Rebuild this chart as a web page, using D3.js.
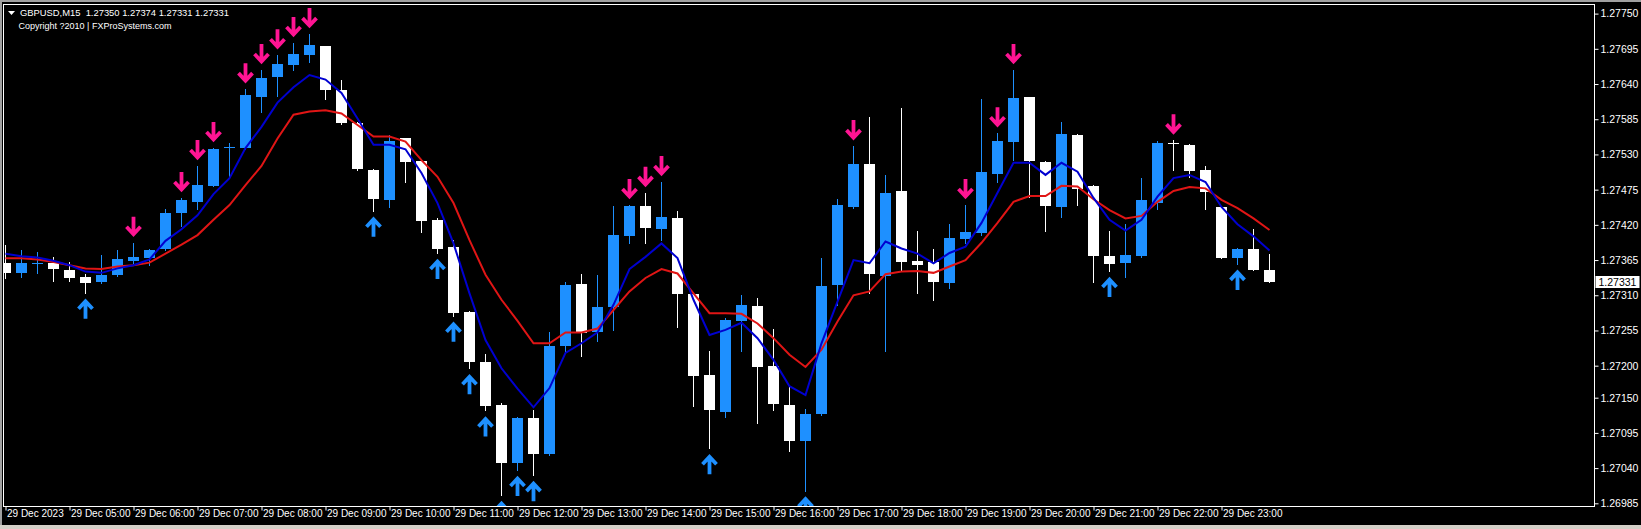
<!DOCTYPE html>
<html><head><meta charset="utf-8">
<script src="https://cdn.jsdelivr.net/npm/d3@7"></script>
<style>html,body{margin:0;padding:0;background:#000;overflow:hidden}text{font-family:"Liberation Sans",Arial,sans-serif}</style>
</head><body><svg id="c" width="1641" height="529"></svg>
<script>
// ---------- DATA ----------
const times = ["04:00","04:15","04:30","04:45","05:00","05:15","05:30","05:45","06:00","06:15",
"06:30","06:45","07:00","07:15","07:30","07:45","08:00","08:15","08:30","08:45",
"09:00","09:15","09:30","09:45","10:00","10:15","10:30","10:45","11:00","11:15",
"11:30","11:45","12:00","12:15","12:30","12:45","13:00","13:15","13:30","13:45",
"14:00","14:15","14:30","14:45","15:00","15:15","15:30","15:45","16:00","16:15",
"16:30","16:45","17:00","17:15","17:30","17:45","18:00","18:15","18:30","18:45",
"19:00","19:15","19:30","19:45","20:00","20:15","20:30","20:45","21:00","21:15",
"21:30","21:45","22:00","22:15","22:30","22:45","23:00","23:15","23:30","23:45"];
const open = [1.27360,1.27345,1.27359,1.27360,1.27350,1.27339,1.27330,1.27341,1.27364,1.27368,
1.27381,1.27438,1.27455,1.27481,1.27540,1.27540,1.27621,1.27650,1.27670,1.27686,
1.27699,1.27630,1.27579,1.27505,1.27459,1.27555,1.27519,1.27427,1.27385,1.27284,
1.27206,1.27139,1.27048,1.27118,1.27062,1.27231,1.27328,1.27253,1.27291,1.27402,
1.27450,1.27414,1.27431,1.27312,1.27185,1.27128,1.27270,1.27293,1.27199,1.27139,
1.27083,1.27125,1.27326,1.27448,1.27515,1.27340,1.27473,1.27363,1.27362,1.27330,
1.27398,1.27408,1.27500,1.27549,1.27619,1.27518,1.27448,1.27561,1.27481,1.27372,
1.27361,1.27372,1.27454,1.27548,1.27545,1.27506,1.27448,1.27369,1.27383,1.27350];
const high = [1.27388,1.27381,1.27378,1.27369,1.27362,1.27343,1.27373,1.27381,1.27392,1.27382,
1.27444,1.27462,1.27512,1.27540,1.27548,1.27632,1.27662,1.27685,1.27704,1.27718,
1.27700,1.27647,1.27580,1.27508,1.27560,1.27556,1.27520,1.27430,1.27397,1.27286,
1.27218,1.27141,1.27120,1.27131,1.27253,1.27330,1.27344,1.27342,1.27449,1.27451,
1.27470,1.27487,1.27442,1.27313,1.27223,1.27274,1.27310,1.27305,1.27257,1.27170,
1.27133,1.27368,1.27460,1.27543,1.27588,1.27498,1.27602,1.27411,1.27383,1.27421,
1.27451,1.27616,1.27563,1.27662,1.27620,1.27519,1.27580,1.27562,1.27482,1.27411,
1.27421,1.27493,1.27551,1.27552,1.27546,1.27512,1.27449,1.27384,1.27413,1.27374];
const low = [1.27337,1.27338,1.27345,1.27333,1.27333,1.27314,1.27329,1.27340,1.27360,1.27357,
1.27380,1.27418,1.27444,1.27480,1.27493,1.27539,1.27597,1.27621,1.27662,1.27675,
1.27616,1.27577,1.27506,1.27442,1.27448,1.27487,1.27409,1.27376,1.27278,1.27196,
1.27130,1.26998,1.27037,1.27029,1.27060,1.27222,1.27215,1.27238,1.27256,1.27392,
1.27392,1.27397,1.27261,1.27137,1.27071,1.27120,1.27223,1.27111,1.27131,1.27066,
1.27005,1.27123,1.27295,1.27447,1.27314,1.27223,1.27350,1.27314,1.27302,1.27321,
1.27392,1.27404,1.27487,1.27521,1.27463,1.27411,1.27433,1.27451,1.27330,1.27348,
1.27338,1.27369,1.27444,1.27506,1.27495,1.27444,1.27368,1.27359,1.27350,1.27331];
const close = [1.27345,1.27360,1.27360,1.27351,1.27338,1.27330,1.27341,1.27366,1.27370,1.27381,
1.27438,1.27459,1.27482,1.27539,1.27541,1.27623,1.27650,1.27671,1.27687,1.27701,
1.27630,1.27578,1.27507,1.27459,1.27551,1.27518,1.27426,1.27382,1.27282,1.27206,
1.27137,1.27048,1.27119,1.27062,1.27231,1.27326,1.27252,1.27292,1.27404,1.27449,
1.27415,1.27432,1.27312,1.27184,1.27130,1.27271,1.27295,1.27198,1.27139,1.27083,
1.27125,1.27325,1.27451,1.27515,1.27343,1.27470,1.27362,1.27356,1.27330,1.27400,
1.27409,1.27503,1.27551,1.27618,1.27519,1.27450,1.27562,1.27477,1.27371,1.27360,
1.27373,1.27459,1.27548,1.27547,1.27505,1.27472,1.27369,1.27383,1.27350,1.27331];
const maFast = [1.27375,1.27371,1.27369,1.27364,1.27357,1.27347,1.27345,1.27352,1.27357,1.27366,
1.27395,1.27413,1.27435,1.27468,1.27493,1.27540,1.27573,1.27611,1.27635,1.27654,
1.27647,1.27626,1.27586,1.27545,1.27545,1.27538,1.27501,1.27454,1.27391,1.27313,
1.27240,1.27196,1.27164,1.27135,1.27165,1.27220,1.27235,1.27252,1.27295,1.27351,
1.27370,1.27391,1.27368,1.27303,1.27248,1.27256,1.27267,1.27243,1.27209,1.27168,
1.27154,1.27235,1.27300,1.27365,1.27360,1.27394,1.27383,1.27375,1.27360,1.27376,
1.27386,1.27423,1.27470,1.27517,1.27517,1.27498,1.27517,1.27503,1.27462,1.27428,
1.27411,1.27428,1.27464,1.27493,1.27498,1.27487,1.27448,1.27421,1.27402,1.27380];
const maSlow = [1.27368,1.27368,1.27366,1.27362,1.27357,1.27352,1.27351,1.27355,1.27357,1.27361,
1.27375,1.27389,1.27404,1.27428,1.27451,1.27482,1.27512,1.27555,1.27592,1.27597,
1.27599,1.27594,1.27576,1.27558,1.27558,1.27550,1.27521,1.27495,1.27454,1.27396,
1.27342,1.27303,1.27270,1.27235,1.27235,1.27252,1.27252,1.27258,1.27287,1.27316,
1.27337,1.27351,1.27344,1.27313,1.27282,1.27282,1.27281,1.27266,1.27243,1.27217,
1.27198,1.27225,1.27269,1.27310,1.27316,1.27343,1.27347,1.27348,1.27345,1.27355,
1.27365,1.27392,1.27423,1.27456,1.27465,1.27465,1.27481,1.27480,1.27460,1.27443,
1.27430,1.27434,1.27456,1.27473,1.27479,1.27477,1.27459,1.27446,1.27430,1.27412];
const sellSignals = ["06:00","06:45","07:00","07:15","07:45","08:00","08:15","08:30","08:45",
"13:45","14:00","14:15","17:15","19:00","19:30","19:45","22:15"];
const buySignals = ["05:15","09:45","10:45","11:00","11:15","11:30","11:45","12:00","12:15",
"15:00","16:30","21:15","23:15"];
const priceTicks = [1.27750,1.27695,1.27640,1.27585,1.27530,1.27475,1.27420,1.27365,1.27310,
1.27255,1.27200,1.27150,1.27095,1.27040,1.26985];
const timeTicks = ["04:00","05:00","06:00","07:00","08:00","09:00","10:00","11:00","12:00","13:00",
"14:00","15:00","16:00","17:00","18:00","19:00","20:00","21:00","22:00","23:00"];
const timeTickLabels = ["29 Dec 2023","29 Dec 05:00","29 Dec 06:00","29 Dec 07:00","29 Dec 08:00",
"29 Dec 09:00","29 Dec 10:00","29 Dec 11:00","29 Dec 12:00","29 Dec 13:00","29 Dec 14:00",
"29 Dec 15:00","29 Dec 16:00","29 Dec 17:00","29 Dec 18:00","29 Dec 19:00","29 Dec 20:00",
"29 Dec 21:00","29 Dec 22:00","29 Dec 23:00"];
const symbol = "GBPUSD,M15";
const lastBar = {o:1.27350, h:1.27374, l:1.27331, c:1.27331};
const copyright = "Copyright ?2010 | FXProSystems.com";

// ---------- LAYOUT ----------
const W = 1641, H = 529;
const L = 3.5, T = 4.5, R = 1594.5, B = 506.5;
const UP = "#1E90FF", DN = "#FFFFFF", FAST = "#0000D0", SLOW = "#E01515", SELL = "#FF1493", BUY = "#1E90FF";

const svg = d3.select("#c");
svg.append("rect").attr("width", W).attr("height", H).attr("fill", "#000");

const x = d3.scalePoint().domain(times).range([5.5, 5.5 + 16 * (times.length - 1)]);
const y = d3.scaleLinear().domain([1.269808, 1.277650]).range([506, 4]);

svg.append("defs").append("clipPath").attr("id", "clip")
  .append("rect").attr("x", L + 0.5).attr("y", T + 0.5).attr("width", R - L - 1).attr("height", B - T - 1);

const plot = svg.append("g").attr("clip-path", "url(#clip)");
const data = times.map((t, i) => ({t, o: open[i], h: high[i], l: low[i], c: close[i]}));
const col = d => d.c >= d.o ? UP : DN;

plot.selectAll("line.wick").data(data).join("line").attr("class", "wick")
  .attr("x1", d => x(d.t)).attr("x2", d => x(d.t))
  .attr("y1", d => Math.round(y(d.h))).attr("y2", d => Math.round(y(d.l)) + 1)
  .attr("stroke", col).attr("stroke-width", 1);

plot.selectAll("rect.body").data(data).join("rect").attr("class", "body")
  .attr("x", d => x(d.t) - 5.5).attr("width", 11)
  .attr("y", d => Math.round(y(Math.max(d.o, d.c))))
  .attr("height", d => Math.max(1, Math.round(Math.abs(y(d.o) - y(d.c)))))
  .attr("fill", col);

const line = d3.line().x((v, i) => x(times[i])).y(v => y(v));
plot.append("path").datum(maSlow).attr("d", line).attr("fill", "none").attr("stroke", SLOW).attr("stroke-width", 2);
plot.append("path").datum(maFast).attr("d", line).attr("fill", "none").attr("stroke", FAST).attr("stroke-width", 2);

const byTime = new Map(data.map(d => [d.t, d]));
const downArrow = "M0,-19 L0,-2 M-7,-9 L0,-1.5 L7,-9";
const upArrow = "M0,19 L0,2 M-7,9 L0,1.5 L7,9";
plot.selectAll("path.sell").data(sellSignals).join("path").attr("class", "sell")
  .attr("transform", t => `translate(${x(t)},${y(byTime.get(t).h) - 7})`)
  .attr("d", downArrow).attr("fill", "none").attr("stroke", SELL).attr("stroke-width", 3.8);
plot.selectAll("path.buy").data(buySignals).join("path").attr("class", "buy")
  .attr("transform", t => `translate(${x(t)},${y(byTime.get(t).l) + 7})`)
  .attr("d", upArrow).attr("fill", "none").attr("stroke", BUY).attr("stroke-width", 3.8);

// frame
svg.append("rect").attr("x", L).attr("y", T).attr("width", R - L).attr("height", B - T)
  .attr("fill", "none").attr("stroke", "#fff").attr("stroke-width", 1);

// right price axis
const yAxis = d3.axisRight(y).tickValues(priceTicks).tickSize(4).tickPadding(2).tickFormat(d3.format(".5f"));
const ya = svg.append("g").attr("transform", `translate(${R},0)`).call(yAxis);
ya.select(".domain").remove();
ya.selectAll(".tick line").attr("stroke", "#fff");
ya.selectAll(".tick text").attr("fill", "#fff").attr("font-size", "10.5px").attr("font-family", "Liberation Sans, Arial, sans-serif");

// current price label
const cp = svg.append("g").attr("transform", `translate(${R + 1},${Math.round(y(lastBar.c))})`);
cp.append("rect").attr("x", 0).attr("y", -6).attr("width", 44).attr("height", 12).attr("fill", "#fff");
cp.append("text").attr("x", 3).attr("y", 4).attr("font-size", "10.5px").attr("fill", "#000").text(d3.format(".5f")(lastBar.c));

// bottom time axis
const xAxis = d3.axisBottom(x).tickValues(timeTicks).tickSize(4).tickFormat((t, i) => timeTickLabels[i]);
const xa = svg.append("g").attr("transform", `translate(0,${B})`).call(xAxis);
xa.select(".domain").remove();
xa.selectAll(".tick line").attr("stroke", "#fff");
xa.selectAll(".tick text").attr("fill", "#fff").attr("font-size", "10px").attr("text-anchor", "start")
  .attr("x", 1).attr("dy", "0.3em").attr("font-family", "Liberation Sans, Arial, sans-serif");

// title
svg.append("path").attr("d", "M8,11 L15,11 L11.5,15 Z").attr("fill", "#fff");
svg.append("text").attr("x", 20).attr("y", 16).attr("font-size", "9.4px").attr("fill", "#fff")
  .attr("xml:space", "preserve").style("white-space", "pre")
  .text(`${symbol}  ${[lastBar.o, lastBar.h, lastBar.l, lastBar.c].map(d3.format(".5f")).join(" ")}`);
svg.append("text").attr("x", 18.5).attr("y", 29).attr("font-size", "9px").attr("fill", "#fff").text(copyright);

// window border
svg.append("rect").attr("x", 0).attr("y", 0).attr("width", W).attr("height", 2).attr("fill", "#a0a0a0");
svg.append("rect").attr("x", 0).attr("y", 0).attr("width", 2).attr("height", H).attr("fill", "#a0a0a0");
svg.append("rect").attr("x", 0).attr("y", H - 4).attr("width", W).attr("height", 4).attr("fill", "#d4d0c8");
</script></body></html>
